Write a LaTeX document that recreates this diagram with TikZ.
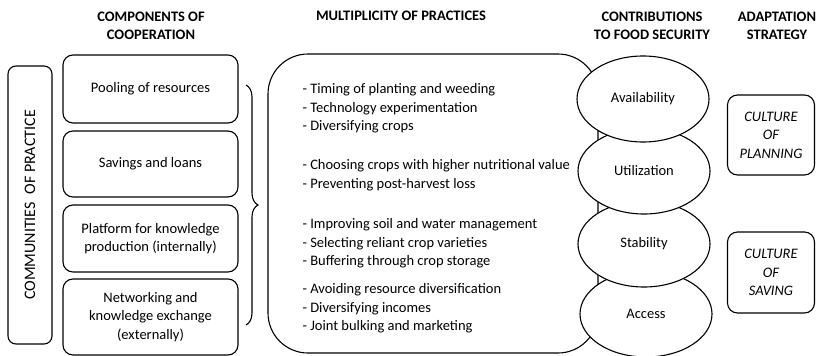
\documentclass[tikz,border=0pt]{standalone}
\usepackage{fontspec}
\setmainfont{Carlito}
\usepackage{tikz}
\usetikzlibrary{shapes.geometric, decorations.pathreplacing}
\newcommand{\txtsize}{\fontsize{14.5}{18.5}\selectfont}
\tikzstyle{compbox} = [draw, rounded corners=10pt, minimum width=175pt, align=center]
\tikzstyle{pillar} = [draw, ellipse, fill=white, minimum width=132pt, minimum height=86pt]
\tikzstyle{head} = [font=\txtsize\bfseries, align=center]
\tikzstyle{stratbox} = [draw, rounded corners=10pt, minimum width=87pt, minimum height=80pt, align=center, font=\txtsize\itshape]
\tikzstyle{practice} = [anchor=north west, align=left, inner sep=0pt]

\begin{document}
\begin{tikzpicture}[x=1pt, y=-1pt, line width=1.1pt, font=\txtsize]
	\useasboundingbox (0,0) rectangle (817,356);
	
	% Column headings:
	\node [head] (hcomp)  at (151,26) {COMPONENTS OF\\COOPERATION};
	\node [head] (hmulti) at (401,16) {MULTIPLICITY OF PRACTICES};
	\node [head] (hcontr) at (652,26) {CONTRIBUTIONS\\TO FOOD SECURITY};
	\node [head] (hadapt) at (777,26) {ADAPTATION\\STRATEGY};
	
	% Left side: communities and the components of cooperation
	\node [draw, rounded corners=8pt, rotate=90, minimum width=278pt, minimum height=44pt,
	font=\fontsize{16}{18}\selectfont] (cop) at (30,205) {COMMUNITIES\hspace{4pt} OF PRACTICE};
	\node [compbox, minimum height=68pt] (pool) at (150.5,89)  {Pooling of resources};
	\node [compbox, minimum height=66pt] (save) at (150.5,164) {Savings and loans};
	\node [compbox, minimum height=67pt] (plat) at (150.5,238.5) {Platform for knowledge\\production (internally)};
	\node [compbox, minimum height=76pt] (netw) at (150.5,317) {Networking and\\knowledge exchange\\(externally)};
	
	% Brace:
	\coordinate (brtop) at (246,85);
	\coordinate (brbot) at (246,325);
	\draw [decorate, decoration={brace, amplitude=12pt}] (brtop) -- (brbot);
	
	% Practices:
	\node [draw, rounded corners=40pt, minimum width=330pt, minimum height=299pt] (multi) at (433,203.5) {};
	\node [practice] (grpa) at (302,83)  {- Timing of planting and weeding\\- Technology experimentation\\- Diversifying crops};
	\node [practice] (grpb) at (302,159) {- Choosing crops with higher nutritional value\\- Preventing post-harvest loss};
	\node [practice] (grpc) at (302,218) {- Improving soil and water management\\- Selecting reliant crop varieties\\- Buffering through crop storage};
	\node [practice] (grpd) at (302,283) {- Avoiding resource diversification\\- Diversifying incomes\\- Joint bulking and marketing};
	
	% Food security pillars (bottom one first, so that each overlaps the next):
	\node [pillar] (acc)  at (646,314) {Access};
	\node [pillar] (stab) at (644,244) {Stability};
	\node [pillar] (util) at (644,171) {Utilization};
	\node [pillar] (avail) at (643,99) {Availability};
	
	% Strategies:
	\node [stratbox] (plan) at (771,135) {CULTURE\\OF\\PLANNING};
	\node [stratbox, minimum height=81pt] (sav) at (771,272.5) {CULTURE\\OF\\SAVING};
\end{tikzpicture}
\end{document}
